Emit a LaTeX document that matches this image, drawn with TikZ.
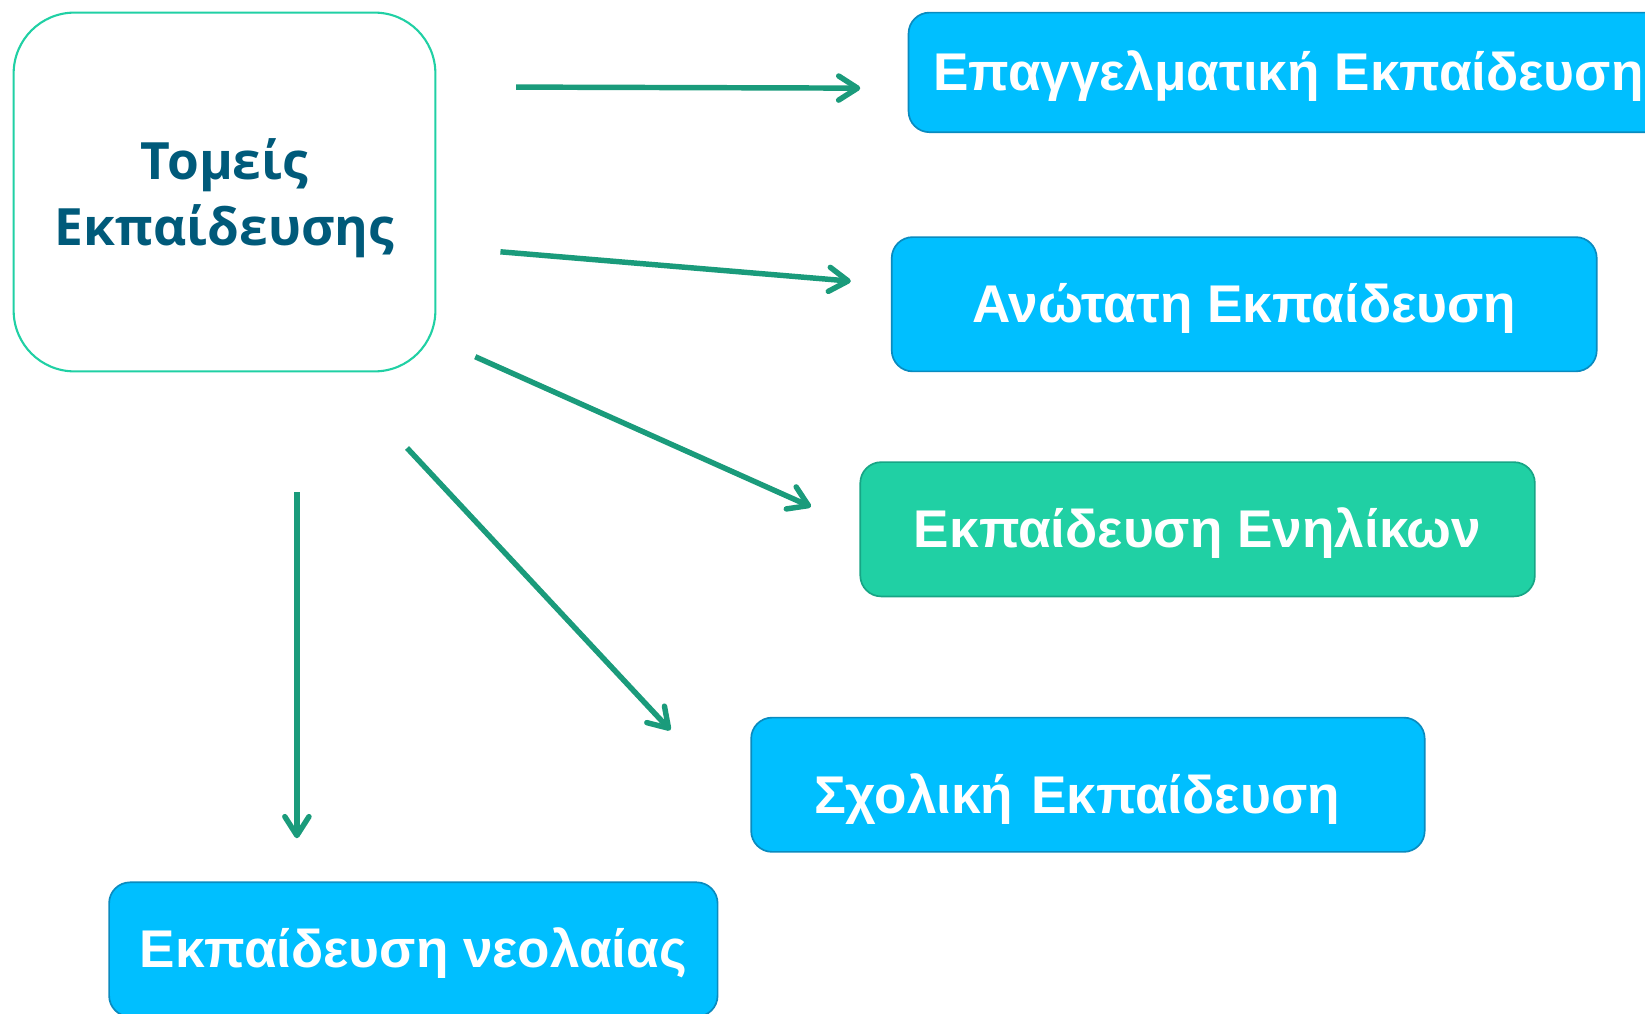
\documentclass[tikz,border=0pt]{standalone}
\usepackage{fontspec}
\setmainfont{Liberation Sans}
\newfontfamily\titlefont{Open Sans}
\usetikzlibrary{arrows.meta}

\definecolor{skyfill}{HTML}{00BFFF}
\definecolor{skyline}{HTML}{0A8BBF}
\definecolor{mintfill}{HTML}{20D0A4}
\definecolor{mintline}{HTML}{17A585}
\definecolor{arrowgreen}{HTML}{1A9B7B}
\definecolor{titleblue}{HTML}{005A7A}

\begin{document}
\begin{tikzpicture}[x=0.5pt, y=-0.5pt,
    sector/.style={draw=skyline, fill=skyfill, line width=0.8pt, rounded corners=10pt,
        text=white, font=\bfseries\fontsize{25.3}{30}\selectfont,
        minimum height=64pt, inner sep=0pt, text depth=1.4pt},
    arr/.style={draw=arrowgreen, line width=2.6pt,
        -{Straight Barb[length=9pt, width=11.5pt, round]}}]
    \clip (0,0) rectangle (1568,966);

    % Main box
    \node[draw=mintfill, line width=1pt, rounded corners=29pt,
        minimum width=201pt, minimum height=171pt, align=center,
        text=titleblue, font=\titlefont\bfseries\fontsize{24.5}{30}\selectfont]
        (sectors) at (214,183) {\raisebox{0pt}[\height][\dimexpr\depth-10pt\relax]{\shortstack{Τομείς\\[3pt]Εκπαίδευσης}}};

    % Sector boxes
    \node[sector, minimum width=362pt, minimum height=57pt] (vocational) at (1228,69) {Επαγγελματική Εκπαίδευση};
    \node[sector, minimum width=336pt] (higher) at (1186,290) {Ανώτατη Εκπαίδευση};
    \node[sector, minimum width=321.5pt, fill=mintfill, draw=mintline] (adult) at (1141.5,504.5) {Εκπαίδευση Ενηλίκων};
    \node[sector, minimum width=321pt, text width=261pt, inner xsep=30pt, align=left, text height=29pt]
        (school) at (1037,748) {Σχολική Εκπαίδευση};
    \node[sector, minimum width=290pt] (youth) at (394,905) {Εκπαίδευση νεολαίας};

    % Arrow ends
    \coordinate (s1) at (492,83);  \coordinate (e1) at (820,84);
    \coordinate (s2) at (477,240); \coordinate (e2) at (811,268);
    \coordinate (s3) at (453,340); \coordinate (e3) at (773,483);
    \coordinate (s4) at (388,427); \coordinate (e4) at (639,696);
    \coordinate (s5) at (283,469); \coordinate (e5) at (283,799);

    % Arrows
    \draw[arr] (s1) -- (e1);
    \draw[arr] (s2) -- (e2);
    \draw[arr] (s3) -- (e3);
    \draw[arr] (s4) -- (e4);
    \draw[arr] (s5) -- (e5);
\end{tikzpicture}
\end{document}
